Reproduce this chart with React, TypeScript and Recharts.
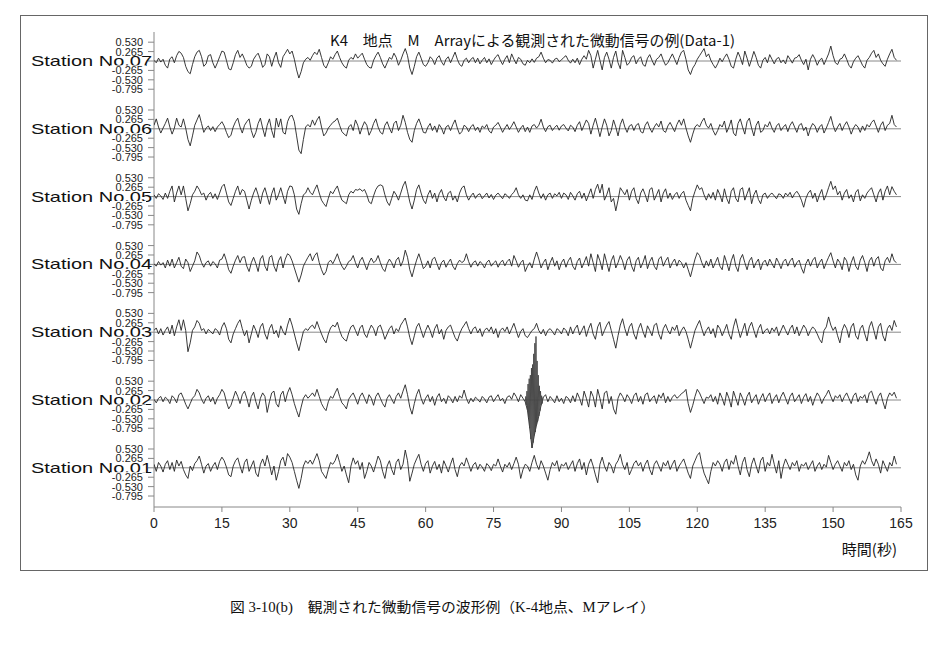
import React from 'react';
import { LineChart, Line, XAxis, YAxis, ReferenceLine } from 'recharts';

// ---- data: amplitude samples every SAMPLE_INTERVAL seconds (t = 0 .. 164 s) ----
const SAMPLE_INTERVAL = 0.5;

const station07 = [
  0.02,-0.05,0.08,-0.03,0.05,-0.12,-0.2,0.06,0.12,-0.05,0.15,0.27,0.22,0.1,-0.15,-0.3,-0.36,-0.1,0.12,0.25,
  0.3,0.12,-0.15,-0.08,0.15,0.18,-0.05,-0.2,-0.05,0.12,0.28,0.25,0.02,-0.22,-0.25,-0.05,0.18,0.3,0.1,0.2,
  0.05,-0.12,-0.2,-0.15,0.05,0.15,0.22,0.05,-0.18,-0.1,0.2,0.12,-0.15,0.08,0.25,-0.05,-0.18,0.12,0.22,0.33,
  0.2,0.28,0.05,-0.25,-0.48,-0.3,-0.05,0.05,0.1,0.02,0.15,0.25,0.18,0.33,0.1,-0.12,-0.2,-0.05,0.12,0.05,
  0.18,0.28,0.1,-0.05,-0.15,-0.2,0.02,0.1,0.05,0.2,0.08,0.15,0.22,0.05,-0.1,-0.18,-0.2,0.02,0.15,0.25,
  0.1,-0.08,-0.2,-0.05,0.1,0.05,0.22,0.1,-0.12,0.02,0.2,0.35,0.15,-0.2,-0.38,-0.15,0.12,0.25,0.08,-0.1,
  -0.15,-0.05,0.12,0.05,-0.1,0.08,0.15,-0.02,-0.12,0.05,0.12,-0.05,0.1,0.25,0.05,-0.1,-0.15,0.02,0.08,-0.05,
  0.05,0.1,-0.05,0.08,-0.08,0.02,0.1,-0.05,0.06,-0.1,0.02,0.12,0.18,0.02,-0.1,0.05,0.15,-0.05,0.2,0.05,
  -0.08,0.1,0.05,-0.08,-0.12,0.02,-0.05,0.06,-0.04,0.08,0.12,0.25,0.08,-0.05,0.04,0.02,-0.06,0.05,0.08,-0.02,
  0.03,0.1,0.15,0.02,-0.06,0.05,-0.05,0.08,-0.1,0.05,0.15,0.05,0.3,0.15,-0.2,0.05,0.3,0.02,-0.25,0.1,
  0.25,0.05,-0.2,0.1,0.28,-0.05,-0.22,0.3,0.1,-0.12,-0.05,0.1,0.15,-0.08,0.05,0.12,-0.1,-0.15,0.08,0.18,
  0.02,-0.12,0.05,0.1,0.2,0.02,-0.12,-0.05,0.08,0.2,0.05,-0.1,0.1,0.25,0.3,0.05,-0.25,-0.38,-0.2,-0.1,
  0.05,0.15,0.25,0.35,0.12,0.2,0.02,-0.1,-0.2,-0.08,0.08,-0.02,0.1,0.2,0.05,-0.15,-0.2,0.05,0.25,0.1,
  -0.1,0.28,0.08,-0.15,0.05,0.27,0.1,-0.12,-0.2,0.02,0.1,-0.05,0.18,0.05,-0.08,0.06,0.1,-0.05,0.03,-0.08,
  0.15,0.05,-0.06,0.08,0.1,0.18,0.02,-0.1,0.05,-0.25,0.05,0.18,0.06,-0.12,0.02,0.08,-0.1,0.05,0.2,0.42,
  0.15,-0.05,-0.1,0.05,0.08,0.2,0.05,-0.12,-0.2,-0.02,0.08,0.15,0.02,-0.12,-0.2,0.02,0.1,0.22,0.3,0.1,
  0.2,0.02,-0.08,-0.15,0.05,0.2,0.33,0.1,0.02,
];

const station06 = [
  0.1,0.28,0.05,-0.12,0.02,0.15,0.3,0.05,-0.15,0.02,0.3,0.1,0.05,0.28,0.02,-0.3,-0.48,-0.2,0.1,0.25,
  0.4,0.15,-0.1,0.02,0.08,-0.05,0.06,-0.08,0.05,0.12,0.2,0.08,-0.1,-0.25,-0.18,0.05,0.2,0.3,0.05,-0.12,
  0.1,0.2,0.28,-0.05,-0.25,-0.1,0.15,0.3,0.02,-0.22,0.1,0.28,-0.05,-0.25,0.3,0.05,0.28,-0.1,-0.15,0.2,
  0.35,0.38,0.2,-0.2,-0.6,-0.7,-0.3,0.05,0.12,0.05,0.25,0.1,0.25,0.35,0.05,-0.2,-0.12,0.02,0.1,0.18,
  0.22,0.3,0.1,-0.08,-0.15,-0.2,0.05,0.12,-0.05,0.25,0.1,-0.15,0.05,0.2,0.1,-0.18,-0.05,0.15,0.28,0.05,
  -0.1,-0.15,0.1,0.2,0.02,-0.12,0.15,0.22,-0.05,0.1,0.38,0.18,-0.1,-0.3,-0.38,-0.05,0.15,0.28,0.1,-0.1,
  -0.12,0.05,0.15,-0.05,0.08,-0.1,0.12,0.02,-0.15,0.05,0.1,-0.05,0.12,0.25,0.02,-0.15,-0.08,0.1,0.05,-0.08,
  0.06,0.12,-0.05,0.05,-0.1,0.08,0.02,0.12,-0.06,-0.12,0.05,0.1,0.18,0.05,-0.1,0.02,0.12,-0.02,0.08,0.2,
  0.05,-0.1,0.02,0.1,-0.08,0.05,-0.1,0.08,0.12,0.02,0.1,0.27,0.05,-0.08,0.06,0.1,-0.05,0.04,0.1,-0.04,
  0.08,0.12,0.02,-0.06,0.1,0.05,-0.08,0.1,0.2,-0.05,0.1,0.25,0.15,-0.15,0.1,0.3,0.05,-0.22,0.05,0.28,
  0.1,-0.2,-0.05,0.25,0.05,-0.2,0.12,0.28,0.05,-0.1,0.08,0.12,-0.05,0.1,0.15,-0.08,-0.12,0.1,0.2,0.02,
  -0.1,0.05,0.15,0.05,0.22,-0.05,-0.1,0.08,0.18,0.05,-0.08,0.12,0.25,0.1,0.28,0.02,-0.2,-0.38,-0.15,0.05,
  0.12,0.05,0.2,0.3,0.1,0.02,0.15,-0.05,-0.18,-0.05,0.12,0.05,0.22,-0.1,0.05,0.25,-0.12,-0.2,0.15,0.28,
  0.05,-0.15,0.2,0.3,0.02,-0.2,0.1,0.22,-0.1,-0.05,0.12,0.05,0.2,0.02,-0.1,0.08,0.15,-0.05,0.05,0.12,
  -0.08,0.1,0.2,0.05,-0.1,0.1,0.15,-0.05,0.05,-0.2,0.02,0.15,0.08,-0.1,0.05,0.12,-0.12,0.02,0.18,0.35,
  0.1,-0.08,0.05,0.15,-0.05,0.1,0.2,0.05,-0.15,0.02,0.12,0.05,-0.1,0.08,-0.05,0.12,0.05,0.18,0.25,0.08,
  -0.1,0.1,0.2,-0.05,0.1,0.15,0.38,0.12,0.05,
];

const station05 = [
  0.05,-0.05,0.08,0.02,-0.08,0.1,-0.05,0.15,0.3,-0.15,0.1,0.3,0.05,0.3,-0.05,-0.4,-0.2,0.05,0.15,0.3,
  0.2,0.05,0.1,-0.1,0.05,0.12,-0.05,0.08,-0.08,0.1,0.28,0.35,0.1,-0.15,-0.25,-0.05,0.15,0.3,0.05,0.2,
  0.15,-0.1,-0.35,-0.1,0.1,0.25,0.05,-0.2,0.1,0.25,0.02,-0.22,0.08,0.25,-0.1,0.05,0.25,0.02,-0.2,0.15,
  0.3,0.28,0.05,-0.35,-0.5,-0.2,0.05,0.1,0.25,0.12,0.05,0.2,0.33,0.1,-0.1,-0.2,-0.28,-0.05,0.15,0.08,
  0.2,0.3,0.08,-0.1,-0.15,-0.2,0.05,0.15,0.1,0.2,0.18,0.22,0.15,0.2,0.05,-0.15,-0.2,0.02,0.2,0.3,
  0.33,0.3,0.05,-0.15,-0.25,-0.05,0.15,0.05,-0.1,0.1,0.3,0.43,0.15,-0.15,-0.35,-0.1,0.2,0.33,0.1,-0.1,
  -0.2,0.05,0.18,-0.05,0.1,-0.15,0.08,0.2,-0.02,-0.12,0.1,0.15,-0.1,0.02,-0.15,0.1,0.25,0.3,0.05,-0.1,
  0.02,0.1,-0.05,0.05,0.08,-0.06,0.02,0.1,-0.04,0.06,-0.08,0.04,0.1,0.02,-0.06,0.08,0.03,-0.05,0.06,0.12,
  0.25,0.05,-0.05,0.05,-0.1,-0.12,0.05,-0.08,0.15,0.3,0.1,-0.05,0.08,-0.1,0.05,0.1,-0.05,0.08,0.02,0.12,
  -0.05,0.1,0.05,-0.08,0.12,0.02,-0.1,0.08,0.15,-0.05,0.1,-0.12,0.05,0.22,-0.05,0.2,0.35,0.1,0.35,-0.1,
  0.05,0.25,-0.15,-0.05,-0.4,-0.1,0.25,0.15,0.05,0.2,-0.1,0.15,0.25,-0.05,-0.2,0.1,0.22,0.05,-0.15,0.2,
  0.25,-0.1,0.05,0.2,-0.15,0.1,0.22,-0.05,0.1,-0.08,0.05,0.12,-0.05,0.08,0.15,-0.1,-0.25,-0.4,-0.05,0.15,
  0.33,0.2,0.25,0.05,-0.1,0.08,-0.05,0.12,-0.1,0.2,0.05,-0.15,0.22,-0.05,-0.2,0.15,0.25,-0.05,-0.15,0.2,
  0.25,-0.1,0.08,0.25,-0.2,0.05,0.18,-0.08,-0.2,0.05,0.1,-0.05,0.05,0.1,0.02,-0.06,0.08,0.05,-0.05,0.1,
  0.02,0.12,-0.04,0.08,0.15,0.05,-0.1,-0.3,-0.05,0.1,0.18,-0.05,0.1,-0.15,0.05,0.2,-0.1,0.05,0.25,0.43,
  0.2,0.3,0.05,0.15,-0.1,0.1,0.2,-0.05,0.05,-0.15,0.12,0.2,-0.12,0.05,-0.05,0.1,0.18,0.25,0.05,-0.15,
  0.1,0.22,-0.1,0.15,0.3,0.05,0.28,0.15,0.05,
];

const station04 = [
  0.02,-0.05,0.08,-0.02,0.05,-0.1,0.12,-0.05,0.15,-0.1,0.05,0.2,-0.05,-0.12,0.15,0.05,-0.2,-0.05,0.1,0.35,
  0.25,0.05,-0.08,0.05,0.1,-0.05,0.08,0.02,-0.1,0.12,0.15,0.3,0.1,-0.15,-0.25,-0.05,0.12,0.25,0.05,0.2,
  0.22,-0.05,-0.2,0.05,0.2,0.02,-0.2,0.15,0.25,-0.05,-0.18,0.2,0.25,-0.05,-0.2,0.1,0.22,-0.1,0.15,0.3,
  0.25,0.1,-0.1,-0.3,-0.5,-0.3,-0.05,0.08,0.2,0.3,0.1,0.25,0.33,0.05,-0.15,-0.3,-0.2,0.05,0.12,0.02,
  0.15,0.3,0.1,-0.05,-0.15,-0.05,0.08,0.12,0.25,0.05,-0.1,0.1,0.2,0.02,-0.15,0.05,0.18,0.05,0.1,0.25,
  0.05,-0.12,-0.2,0.02,0.15,0.05,-0.1,0.12,0.2,-0.05,0.1,0.4,0.2,-0.15,-0.35,-0.1,0.12,0.3,0.1,-0.12,
  -0.05,0.1,-0.1,0.15,0.2,0.02,-0.15,0.05,0.12,-0.08,0.05,0.15,-0.05,-0.15,0.02,0.12,0.05,0.1,0.3,0.08,
  -0.08,0.05,0.1,-0.05,0.08,0.02,-0.1,0.06,0.12,-0.05,0.04,0.1,-0.08,0.05,0.12,-0.04,0.08,0.15,-0.05,0.25,
  0.1,-0.08,0.05,0.12,-0.2,-0.05,0.05,-0.1,0.15,0.35,0.15,-0.1,0.05,0.15,-0.15,0.05,0.2,-0.05,0.1,-0.15,
  0.05,0.15,-0.08,0.1,0.2,-0.05,-0.15,0.08,0.18,-0.1,0.05,0.22,-0.05,0.3,0.05,-0.2,0.28,0.1,-0.15,0.3,
  0.05,-0.2,0.1,0.25,-0.1,0.05,0.25,0.1,-0.15,0.12,0.22,-0.05,-0.2,0.1,0.2,-0.1,0.05,0.25,-0.12,0.08,
  0.2,-0.05,-0.15,0.15,0.22,-0.05,0.1,0.2,-0.1,0.05,0.15,-0.05,0.12,0.05,-0.1,0.05,-0.15,-0.35,-0.1,0.15,
  0.33,0.25,0.05,-0.1,0.1,-0.05,0.15,-0.1,0.05,0.2,-0.05,-0.15,0.25,0.05,-0.18,0.1,0.28,-0.05,-0.2,0.15,
  0.28,0.05,-0.15,0.1,0.2,-0.1,0.05,0.15,-0.15,0.05,0.12,-0.05,0.15,0.02,-0.1,0.18,0.05,-0.12,0.08,0.15,
  -0.05,0.1,0.18,-0.08,0.05,0.12,-0.1,-0.25,0.02,0.15,-0.05,0.12,0.2,-0.1,0.05,0.15,-0.12,0.05,0.2,0.33,
  0.1,-0.1,0.15,0.05,-0.15,0.2,0.1,-0.2,0.05,0.22,-0.05,-0.15,0.12,0.25,0.05,-0.2,0.1,0.2,-0.05,0.15,
  0.22,-0.1,-0.18,0.1,0.2,0.05,0.3,0.1,0.05,
];

const station03 = [
  0.05,0.12,-0.05,0.1,-0.08,0.05,0.15,-0.05,0.2,-0.1,0.15,0.35,0.05,0.35,0.05,-0.55,-0.3,0.05,0.15,0.33,
  0.25,0.05,0.1,-0.05,0.08,0.02,-0.05,0.1,0.05,-0.08,0.15,0.27,0.1,-0.2,-0.3,-0.05,0.1,0.25,0.35,0.1,
  -0.1,0.05,-0.3,-0.05,0.2,0.05,-0.15,0.15,0.25,-0.05,-0.2,0.1,0.22,-0.05,0.05,-0.15,0.18,0.02,-0.08,0.2,
  0.4,0.2,-0.05,-0.3,-0.52,-0.25,0.02,0.1,0.05,0.15,0.2,0.1,0.3,0.12,-0.05,-0.2,-0.3,-0.05,0.12,0.2,
  0.15,0.28,0.05,-0.12,-0.2,-0.25,-0.02,0.15,0.2,0.05,-0.1,0.12,0.2,-0.05,-0.15,0.05,0.2,0.1,-0.1,0.15,
  0.2,0.02,-0.2,-0.05,0.1,0.18,-0.05,0.1,0.02,0.2,0.3,0.4,0.15,-0.15,-0.35,-0.1,0.15,0.25,0.05,-0.15,
  0.05,0.2,0.05,-0.15,0.1,0.22,-0.05,0.08,-0.2,0.05,0.15,0.2,0.02,-0.15,-0.25,-0.05,0.1,0.2,0.3,0.1,
  -0.05,0.1,0.15,-0.02,0.1,-0.12,0.05,0.12,0.02,0.15,-0.05,0.1,-0.15,0.05,0.12,0.02,0.15,-0.05,0.1,0.25,
  0.05,-0.15,0.02,0.1,-0.1,-0.15,-0.05,0.05,0.1,0.25,0.05,-0.05,0.08,-0.1,0.05,0.1,0.02,-0.08,0.1,0.05,
  -0.05,0.12,0.05,-0.1,0.15,-0.05,0.1,0.2,-0.08,0.05,0.18,-0.12,0.1,0.25,-0.05,-0.2,0.15,0.28,-0.1,0.05,
  0.2,0.3,0.05,-0.2,-0.45,-0.1,0.2,0.38,0.1,-0.1,0.15,0.25,-0.05,-0.2,0.1,0.25,0.02,-0.15,0.18,0.05,
  -0.1,0.2,0.25,-0.05,-0.2,0.1,0.22,0.05,-0.05,0.15,0.05,0.2,-0.1,0.05,0.15,0.02,-0.2,-0.45,-0.2,0.05,
  0.2,0.33,0.1,-0.1,0.05,0.15,-0.05,0.1,-0.15,0.2,0.1,-0.1,0.05,0.22,-0.05,-0.2,0.15,0.38,0.1,-0.15,
  0.05,0.25,-0.1,0.15,0.28,0.05,-0.15,0.1,0.22,-0.05,0.05,0.1,-0.05,0.12,0.02,0.15,-0.1,0.05,0.2,0.05,
  -0.08,0.1,0.2,-0.05,0.15,-0.1,0.05,0.2,0.1,-0.1,0.05,0.15,0.08,-0.05,-0.2,-0.3,0.05,0.15,0.43,0.2,
  0.05,0.15,-0.1,-0.3,0.05,0.22,0.1,-0.15,0.15,0.25,-0.1,-0.2,0.1,0.2,-0.05,-0.25,0.15,0.3,0.05,-0.2,
  0.15,0.25,-0.1,-0.25,0.1,0.2,0.05,0.33,0.15,
];

const station02 = [
  0.02,-0.08,0.05,0.1,-0.05,0.08,0.02,-0.1,0.12,0.05,-0.08,0.15,0.2,0.05,-0.12,-0.25,-0.1,0.05,0.12,0.3,
  0.2,0.02,-0.1,0.05,0.12,-0.05,0.08,-0.12,0.05,0.15,0.3,0.2,-0.05,-0.25,-0.15,0.05,0.25,0.1,-0.1,0.15,
  0.25,0.05,-0.2,0.1,0.22,-0.05,-0.25,0.05,0.2,0.1,-0.35,-0.05,0.2,0.25,-0.1,-0.2,0.15,0.25,-0.05,0.2,
  0.35,0.15,-0.1,-0.3,-0.48,-0.2,0.05,0.15,0.05,0.12,0.2,0.1,0.3,0.1,-0.1,-0.22,-0.3,-0.05,0.1,0.05,
  0.2,0.33,0.1,-0.08,-0.15,-0.25,0.02,0.12,0.2,0.05,-0.12,0.1,0.2,0.05,-0.1,0.15,0.05,-0.15,0.1,0.2,
  0.05,-0.1,-0.2,0.05,0.15,0.02,-0.1,0.1,0.2,0.05,0.25,0.43,0.15,-0.2,-0.4,-0.1,0.15,0.3,0.05,-0.12,
  0.05,0.15,-0.05,0.1,-0.15,0.08,0.18,-0.05,0.05,-0.1,0.12,0.05,-0.08,0.1,-0.05,0.12,0.05,0.28,0.05,-0.1,
  0.05,-0.05,0.08,0.02,-0.06,0.1,0.03,-0.08,0.08,0.12,-0.05,0.06,0.15,-0.02,0.05,-0.1,0.08,0.12,0.02,0.2,
  0.1,-0.05,0.15,0.05,-0.05,-0.3,-0.8,-1.35,-1.0,-0.7,-0.45,-0.15,0.08,0.15,-0.05,0.1,0.02,-0.08,0.12,-0.05,
  0.05,-0.1,0.1,0.05,-0.08,0.12,-0.05,0.2,0.05,-0.15,0.25,0.05,-0.2,0.25,0.1,-0.2,0.3,0.05,-0.25,0.2,
  0.25,-0.1,0.1,-0.25,-0.4,0.05,0.2,0.1,-0.05,0.15,0.05,-0.1,0.12,0.2,-0.05,0.1,-0.12,0.15,0.2,-0.05,
  0.05,0.12,-0.1,0.15,0.05,0.2,-0.08,0.1,-0.05,0.08,0.15,0.05,0.1,0.18,0.22,0.3,-0.1,-0.35,-0.15,0.1,
  0.3,0.2,0.05,-0.1,0.08,0.05,0.15,-0.05,0.1,-0.12,0.2,0.05,-0.15,0.22,0.05,-0.2,0.25,0.05,-0.15,0.2,
  0.05,-0.15,0.1,0.22,-0.08,0.05,0.15,-0.12,0.05,0.18,-0.05,0.1,0.2,-0.1,0.05,0.15,-0.08,0.1,0.22,0.05,
  -0.12,0.1,0.2,-0.05,0.05,0.15,-0.1,0.08,0.18,-0.05,0.1,-0.15,0.05,0.2,0.1,-0.1,0.05,0.15,0.28,0.1,
  -0.05,0.12,0.05,0.15,-0.05,0.1,0.2,0.05,-0.1,0.12,0.2,-0.05,0.1,0.05,0.15,-0.08,0.2,0.25,0.05,-0.12,
  0.1,0.2,-0.05,-0.25,0.05,0.2,0.12,0.22,0.05,
];

// dense samples of the Station No.02 burst (82.0 s .. 86.0 s)
const BURST_START = 82;
const BURST_STEP = 0.125;
const station02Burst = [
  -0.05,0.1,-0.15,0.25,-0.3,0.45,-0.5,0.6,-0.8,0.7,-1.1,0.9,-1.35,1.0,-1.2,1.3,
  -1.0,1.6,-0.9,1.79,-0.7,1.1,-0.6,0.7,-0.45,0.4,-0.3,0.25,-0.15,0.12,-0.1,0.05,0.08,
];

const station01 = [
  0.1,-0.1,0.15,0.05,-0.12,0.1,0.2,-0.05,0.15,-0.1,0.22,0.05,0.18,-0.05,-0.2,-0.3,0.05,-0.08,0.12,0.2,
  0.33,0.1,-0.15,0.05,0.12,-0.1,0.05,0.15,-0.05,0.18,0.3,0.2,0.02,-0.2,-0.25,0.05,0.2,0.28,0.05,-0.15,
  0.15,0.25,-0.1,0.05,0.2,-0.15,-0.25,0.1,0.25,0.05,0.35,0.1,-0.2,0.05,-0.35,-0.1,0.2,0.3,0.05,0.4,
  0.3,0.15,-0.1,-0.35,-0.58,-0.3,0.05,0.2,0.12,0.22,0.1,0.25,0.4,0.2,-0.1,-0.2,-0.3,-0.05,0.15,0.1,
  0.2,0.38,0.15,-0.1,0.05,-0.2,-0.42,0.05,0.28,0.1,0.2,-0.05,0.15,-0.3,-0.1,0.15,0.05,-0.12,0.1,0.33,
  0.2,-0.1,-0.3,0.05,0.2,-0.05,-0.2,0.15,0.25,-0.05,0.1,0.5,0.2,-0.38,-0.15,0.1,0.25,0.38,0.1,-0.1,
  0.12,0.2,-0.15,0.05,0.18,-0.05,0.1,-0.15,0.2,0.05,-0.12,0.1,0.28,-0.05,-0.25,0.05,0.15,0.05,0.28,0.1,
  -0.1,0.08,0.15,-0.05,0.1,0.02,-0.1,0.12,0.05,-0.08,0.1,0.05,0.25,0.05,-0.12,0.1,0.02,0.15,-0.05,0.12,
  0.3,0.1,-0.3,-0.05,0.1,0.05,-0.1,0.15,0.35,0.1,-0.05,0.2,0.05,-0.15,-0.35,-0.05,0.15,0.05,0.2,-0.1,
  0.1,0.05,0.15,-0.05,0.08,0.2,-0.1,0.12,0.25,-0.05,0.15,-0.2,0.1,0.25,0.05,-0.2,-0.42,0.1,0.3,0.05,
  -0.1,0.15,0.05,-0.15,0.1,0.2,0.38,0.1,-0.05,0.15,-0.2,-0.05,0.12,0.2,0.05,0.15,-0.1,0.1,0.22,-0.05,
  -0.2,0.1,0.2,0.05,-0.1,0.15,0.05,0.2,-0.05,0.1,0.22,-0.1,0.05,0.15,0.25,0.05,-0.15,-0.3,0.05,0.2,
  0.35,0.43,0.1,-0.15,-0.3,-0.45,-0.1,0.15,0.05,0.2,0.1,-0.1,0.15,0.25,-0.05,0.2,0.1,0.35,0.05,-0.2,
  0.15,0.3,-0.05,-0.25,0.1,0.28,0.05,-0.15,0.2,0.3,-0.1,0.15,0.05,0.38,0.1,-0.15,0.2,-0.3,0.05,0.25,
  0.1,-0.05,0.15,0.05,0.2,-0.1,0.1,0.05,0.15,-0.05,0.08,0.2,-0.1,0.05,0.15,-0.05,0.1,0.02,0.35,0.15,
  -0.05,0.1,0.2,0.05,-0.1,0.15,0.05,0.2,-0.05,0.1,-0.2,-0.35,0.05,0.2,0.1,0.25,0.45,0.2,0.05,0.25,
  0.1,-0.15,0.2,0.05,-0.1,0.15,0.05,0.33,0.1,
];

// ---- categories / ticks / text ----
const stationNames = ['Station No.07', 'Station No.06', 'Station No.05', 'Station No.04', 'Station No.03', 'Station No.02', 'Station No.01'];
const stationKeys = ['s07', 's06', 's05', 's04', 's03', 's02', 's01'];
const stationSeries = [station07, station06, station05, station04, station03, station02, station01];
const timeTicks = [0, 15, 30, 45, 60, 75, 90, 105, 120, 135, 150, 165];
// zero first so the numeric labels are painted over the station label, as in the reference
const ampTicks = [0, -0.795, -0.53, -0.265, 0.265, 0.53];
const TITLE = 'K4　地点　M　Arrayによる観測された微動信号の例(Data-1)';
const X_LABEL = '時間(秒)';
const CAPTION = '図 3-10(b)　観測された微動信号の波形例（K-4地点、Mアレイ）';

// ---- layout ----
const W = 950;
const CHART_H = 580;
const PLOT_LEFT = 154;
const PLOT_RIGHT = 901;
const PLOT_TOP = 32;
const PLOT_BOTTOM = 507;
const X_AXIS_H = 30;
const Y_AXIS_W = 1;
const PX_PER_UNIT = 35.5;
const FIRST_ZERO = 61;
const PANEL_GAP = 67.8;
const SANS = "'Liberation Sans', Arial, sans-serif";
const JP = "'Noto Sans CJK JP', 'Liberation Sans', sans-serif";

const rows = station07.map((_, i) => {
  const r: Record<string, number> = { t: i * SAMPLE_INTERVAL };
  stationKeys.forEach((k, j) => {
    r[k] = stationSeries[j][i];
  });
  return r;
});
const burstRows = station02Burst.map((v, i) => ({ t: BURST_START + i * BURST_STEP, v }));

function panelDomain(i: number): [number, number] {
  const zero = FIRST_ZERO + i * PANEL_GAP;
  return [-(PLOT_BOTTOM - zero) / PX_PER_UNIT, (zero - PLOT_TOP) / PX_PER_UNIT];
}

const makeYTick = (label: string) => (props: any) => {
  const { y, payload } = props;
  const v = payload.value as number;
  const isZero = Math.abs(v) < 1e-9;
  const txt = (v < 0 ? '-' : '') + Math.abs(v).toFixed(3);
  return (
    <g>
      <line x1={PLOT_LEFT - 6} x2={PLOT_LEFT} y1={y} y2={y} stroke="#888" strokeWidth={1} />
      {isZero ? (
        <text x={PLOT_LEFT - 2} y={y} dy={5} textAnchor="end" fontSize={14.5} fill="#111" fontFamily={SANS}
          textLength={121} lengthAdjust="spacingAndGlyphs">
          {label}
        </text>
      ) : (
        <g>
          {Math.abs(v + 0.265) < 1e-9 ? (
            <rect x={PLOT_LEFT - 44} y={y - 5} width={36} height={10} fill="#fff" />
          ) : null}
          <text x={PLOT_LEFT - 11} y={y} dy={4} textAnchor="end" fontSize={11} fill="#222" fontFamily={SANS}>
            {txt}
          </text>
        </g>
      )}
    </g>
  );
};

export default function App() {
  return (
    <div style={{ position: 'absolute', left: 0, top: 0, width: W, height: 660, background: '#fff' }}>
      <svg width={W} height={660} style={{ position: 'absolute', left: 0, top: 0 }}>
        <rect x={20.5} y={15.5} width={907} height={555} fill="none" stroke="#666" strokeWidth={1} />
        <text x={897} y={555} textAnchor="end" fontSize={15} fill="#111" fontFamily={JP}>{X_LABEL}</text>
        <text x={230} y={612} fontSize={14} fill="#111" fontFamily="'Liberation Serif', 'Noto Sans CJK JP', serif"
          textLength={425} lengthAdjust="spacingAndGlyphs">{CAPTION}</text>
      </svg>
      <div style={{ position: 'absolute', left: 0, top: 0 }}>
        <LineChart
          width={W}
          height={CHART_H}
          data={rows}
          margin={{
            top: PLOT_TOP,
            right: W - PLOT_RIGHT,
            left: PLOT_LEFT - Y_AXIS_W * stationKeys.length,
            bottom: CHART_H - PLOT_BOTTOM - X_AXIS_H,
          }}
        >
          <XAxis
            dataKey="t"
            type="number"
            domain={[0, 165]}
            ticks={timeTicks}
            interval={0}
            height={X_AXIS_H}
            tickSize={5}
            tickMargin={6}
            stroke="#888"
            tick={{ fontSize: 14, fill: '#222', fontFamily: SANS }}
            allowDataOverflow
          />
          {stationKeys.map((k, i) => (
            <YAxis
              key={'y' + k}
              yAxisId={k}
              type="number"
              width={Y_AXIS_W}
              domain={panelDomain(i)}
              ticks={ampTicks}
              interval={0}
              allowDataOverflow
              axisLine={false}
              tickLine={false}
              tick={makeYTick(stationNames[i])}
            />
          ))}
          <ReferenceLine yAxisId="s07" x={0} stroke="#888" strokeWidth={1} />
          {stationKeys.map((k) => (
            <ReferenceLine key={'z' + k} yAxisId={k} y={0} stroke="#888" strokeWidth={1} />
          ))}
          {stationKeys.map((k) => (
            <Line
              key={'l' + k}
              yAxisId={k}
              dataKey={k}
              type="linear"
              dot={false}
              stroke="#222"
              strokeWidth={0.9}
              isAnimationActive={false}
            />
          ))}
          <Line
            data={burstRows}
            yAxisId="s02"
            dataKey="v"
            type="linear"
            dot={false}
            stroke="#444"
            strokeWidth={0.9}
            isAnimationActive={false}
          />
        </LineChart>
      </div>
      <svg width={W} height={60} style={{ position: 'absolute', left: 0, top: 0, pointerEvents: 'none' }}>
        <text x={330} y={46} fontSize={14.5} fill="#111" fontFamily={JP} textLength={405} lengthAdjust="spacingAndGlyphs">
          {TITLE}
        </text>
      </svg>
    </div>
  );
}
